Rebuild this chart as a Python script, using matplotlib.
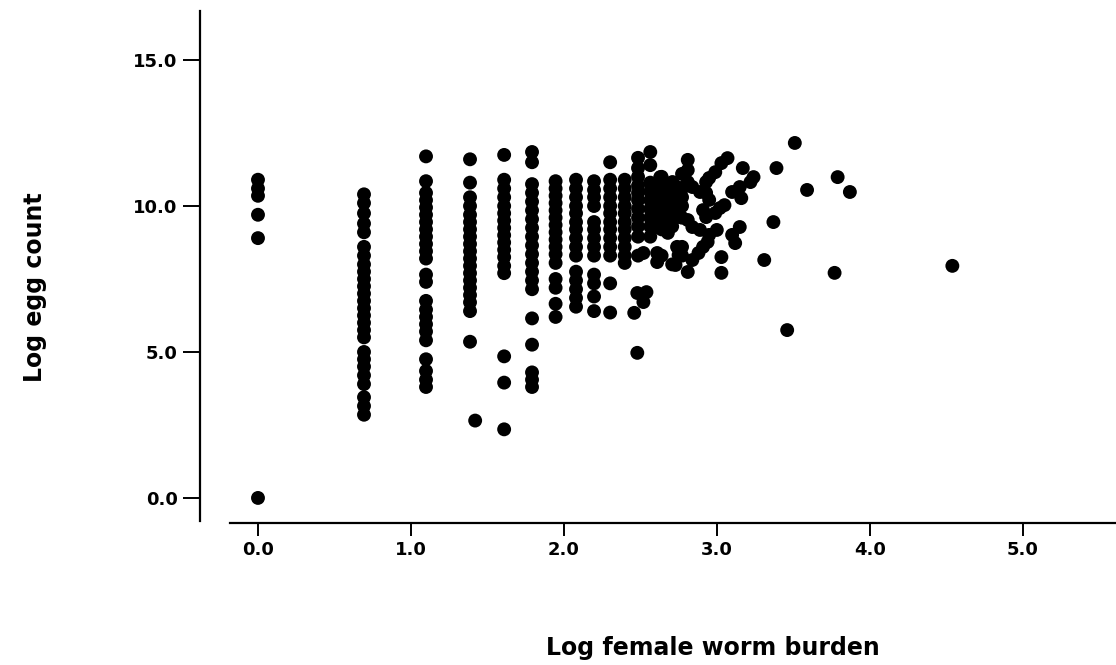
import numpy as np
import matplotlib
matplotlib.use("Agg")
import matplotlib.pyplot as plt

plt.rcParams['font.family'] = ['DejaVu Sans']

# female worm counts for the vertical columns (x axis is log of these)
worm_counts = [1, 2, 3, 4, 5, 6, 7, 8, 9, 10, 11, 12, 13, 14, 15, 16]

# log egg counts in each column
egg_cols = [
    [10.9, 10.6, 10.35, 9.7, 8.9, 0.0],
    [10.4, 10.1, 9.75, 9.4, 9.1, 8.6, 8.3, 8.0, 7.75, 7.5, 7.25, 7.0, 6.75, 6.5,
     6.25, 6.0, 5.75, 5.5, 5.0, 4.75, 4.5, 4.2, 3.9, 3.45, 3.15, 2.85],
    [11.7, 10.85, 10.45, 10.2, 9.95, 9.7, 9.45, 9.2, 8.95, 8.7, 8.45, 8.2, 7.65,
     7.4, 6.75, 6.45, 6.2, 5.95, 5.7, 5.4, 4.75, 4.35, 4.05, 3.8],
    [11.6, 10.8, 10.3, 10.0, 9.7, 9.45, 9.2, 8.95, 8.7, 8.45, 8.2, 7.95, 7.7,
     7.45, 7.2, 6.95, 6.7, 6.4, 5.35],
    [11.75, 10.9, 10.6, 10.3, 10.0, 9.75, 9.5, 9.25, 9.0, 8.75, 8.5, 8.25, 7.95,
     7.7, 4.85, 3.95, 2.35],
    [11.85, 11.5, 10.75, 10.45, 10.15, 9.85, 9.55, 9.25, 8.95, 8.65, 8.35, 8.05,
     7.75, 7.45, 7.15, 6.15, 5.25, 4.3, 4.05, 3.8],
    [10.85, 10.6, 10.35, 10.1, 9.85, 9.6, 9.35, 9.1, 8.85, 8.6, 8.35, 8.05, 7.5,
     7.2, 6.65, 6.2],
    [10.9, 10.6, 10.3, 10.0, 9.75, 9.45, 9.2, 8.9, 8.6, 8.3, 7.75, 7.45, 7.15,
     6.85, 6.55],
    [10.85, 10.55, 10.3, 10.0, 9.45, 9.2, 8.9, 8.6, 8.3, 7.65, 7.35, 6.9, 6.4],
    [11.5, 10.9, 10.6, 10.3, 10.0, 9.75, 9.45, 9.2, 8.9, 8.6, 8.3, 7.35, 6.35],
    [10.9, 10.6, 10.3, 10.0, 9.75, 9.45, 9.2, 8.9, 8.6, 8.3, 8.05],
    [11.65, 11.3, 11.0, 10.7, 10.45, 10.2, 9.9, 9.6, 9.3, 8.95, 8.3],
    [11.85, 11.4, 10.8, 10.5, 10.2, 9.9, 9.6, 9.3, 8.95],
    [11.0, 10.7, 10.4, 10.1, 9.8, 9.5, 9.2, 8.3],
    [10.8, 10.5, 10.2, 9.9, 9.6, 9.3, 8.0],
    [11.1, 10.6, 10.3, 10.0, 9.6, 8.6, 8.3],
]

extra_x = [1.42, 2.48, 2.54, 2.52, 2.46, 2.48,
           2.63, 2.71, 2.74, 2.81, 2.81, 2.81, 2.84, 2.89, 2.93, 2.95, 2.99,
           2.95, 2.93, 3.03, 3.07, 3.17, 3.24, 3.22, 3.15, 3.10, 3.16, 3.05,
           3.02, 2.99, 2.91, 2.93, 2.76, 2.81, 2.84, 2.89, 3.00, 2.95, 3.15,
           3.10, 3.12, 2.68, 2.61, 2.94, 2.91, 2.88, 2.84, 2.81, 2.74, 2.75,
           2.73, 2.61, 2.61, 2.52, 3.03, 3.03, 3.31, 3.37, 3.39, 3.51, 3.59,
           3.79, 3.87, 3.77, 3.46, 4.54]
extra_y = [2.65, 7.02, 7.05, 6.71, 6.34, 4.97,
           10.99, 10.82, 10.65, 11.58, 11.23, 10.82, 10.65, 10.48, 10.45, 10.21,
           11.16, 10.96, 10.82, 11.47, 11.64, 11.30, 10.99, 10.82, 10.65, 10.48,
           10.27, 10.03, 9.93, 9.76, 9.86, 9.62, 9.62, 9.52, 9.28, 9.18, 9.18,
           9.01, 9.28, 9.01, 8.73, 9.08, 9.28, 8.77, 8.60, 8.39, 8.15, 7.74,
           8.60, 8.32, 7.98, 8.39, 8.08, 8.39, 8.25, 7.71, 8.15, 9.45, 11.30,
           12.16, 10.55, 10.99, 10.48, 7.71, 5.75, 7.95]

xs = []
ys = []
for n, col in zip(worm_counts, egg_cols):
    xs += [np.log(n)] * len(col)
    ys += col
xs += extra_x
ys += extra_y

fig = plt.figure(figsize=(11.16, 6.65), dpi=100)
ax = fig.add_axes([230 / 1116, 144 / 665, 886 / 1116, 510 / 665])

ax.scatter(xs, ys, s=100, color='black', edgecolors='none', zorder=3)

ax.set_xlim(-0.183, 5.61)
ax.set_ylim(-0.79, 16.68)

ax.set_xticks([0, 1, 2, 3, 4, 5])
ax.set_xticklabels(['0.0', '1.0', '2.0', '3.0', '4.0', '5.0'])
ax.set_yticks([0, 5, 10, 15])
ax.set_yticklabels(['0.0', '5.0', '10.0', '15.0'])

for side in ['top', 'right']:
    ax.spines[side].set_visible(False)
ax.spines['left'].set_position(('outward', 21.6))
ax.spines['bottom'].set_position(('outward', 1.5))
ax.spines['left'].set_linewidth(1.6)
ax.spines['bottom'].set_linewidth(1.6)

ax.tick_params(axis='x', direction='out', length=9, width=1.4, pad=4,
               labelsize=13)
ax.tick_params(axis='y', direction='out', length=12, width=1.4, pad=4,
               labelsize=13)
for lab in ax.get_xticklabels() + ax.get_yticklabels():
    lab.set_fontweight('bold')

ax.set_xlabel('Log female worm burden', fontsize=17, fontweight='bold')
ax.set_ylabel('Log egg count', fontsize=17, fontweight='bold')
ax.xaxis.set_label_coords(0.545, -0.2255)
ax.yaxis.set_label_coords(-0.207, 0.459)

fig.savefig('out.png', dpi=100)
